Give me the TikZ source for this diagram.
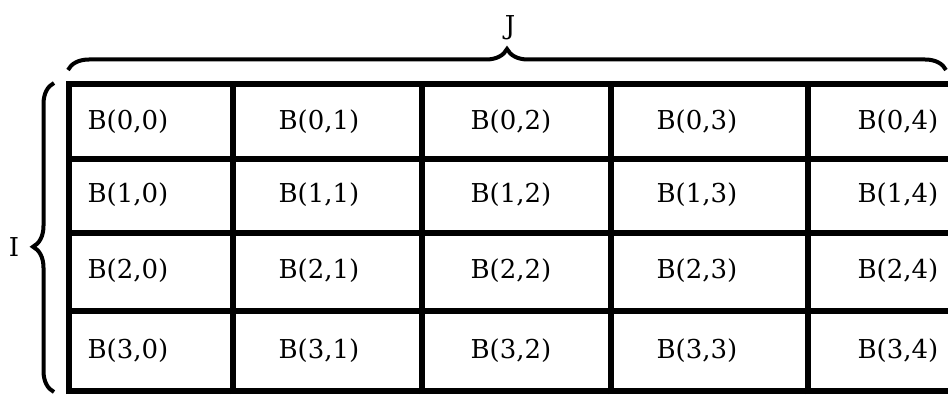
\documentclass[tikz,border=0pt]{standalone}
\usepackage{fontspec}
\setmainfont{DejaVu Serif}
\usetikzlibrary{decorations.pathreplacing}

\begin{document}
\begin{tikzpicture}[x=1pt,y=1pt,
    gridline/.style={line width=5.5pt},
    bracebar/.style={decorate,line width=4pt},
    cell/.style={font=\fontsize{26}{30}\selectfont}]
    \useasboundingbox (0,0) rectangle (948,394);
    % block grid
    \foreach \y in {310,235,161,83,3}
        \draw[gridline] (66,\y) -- (948,\y);
    \foreach \x in {69,233,422,611,808}
        \draw[gridline] (\x,0) -- (\x,313);
    % block labels
    \foreach \r/\ry in {0/272,1/199,2/123,3/43}
        \foreach \c/\cx in {0/128,1/319,2/511,3/697,4/898}
            \node[cell] (b\r\c) at (\cx,\ry) {B(\r,\c)};
    % braces
    \coordinate (jl) at (68,324);
    \coordinate (jr) at (946,324);
    \coordinate (ib) at (54,2);
    \coordinate (it) at (54,311);
    \draw[bracebar,decoration={brace,amplitude=21pt}] (jl) -- (jr);
    \draw[bracebar,decoration={brace,amplitude=21pt,aspect=0.47}] (ib) -- (it);
    \node[cell] (jlab) at (510,366) {J};
    \node[cell] (ilab) at (14,147) {I};
\end{tikzpicture}
\end{document}
